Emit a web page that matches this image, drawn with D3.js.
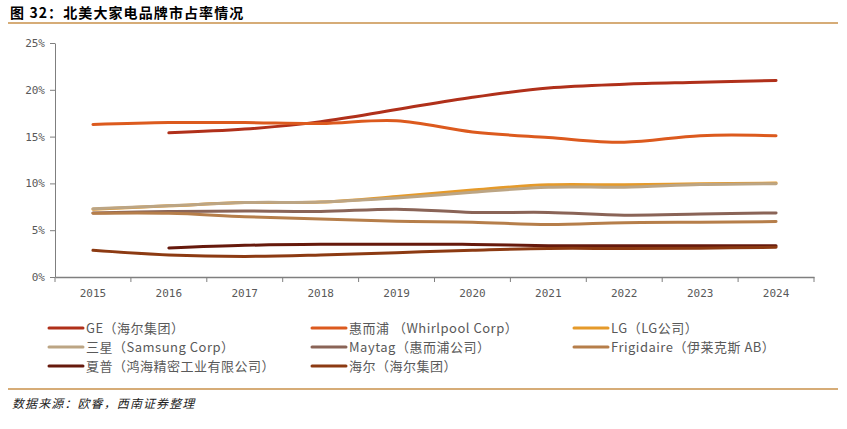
<!DOCTYPE html>
<html><head><meta charset="utf-8">
<script src="https://cdn.jsdelivr.net/npm/d3@7"></script>
<style>body{margin:0;background:#fff}svg{display:block}</style>
</head><body><svg id="c" width="847" height="429"></svg>
<script>
const years = ["2015","2016","2017","2018","2019","2020","2021","2022","2023","2024"];
const yTicks = [0,5,10,15,20,25];
const names = ["GE（海尔集团）","惠而浦 （Whirlpool Corp）","LG（LG公司）","三星（Samsung Corp）","Maytag（惠而浦公司）","Frigidaire（伊莱克斯 AB）","夏普（鸿海精密工业有限公司）","海尔（海尔集团）"];
const colors = ["#B0301A","#DC5A1E","#E59A2A","#BCA584","#8A6457","#B67E4A","#66190C","#8C3A12"];
const geVals = [null,15.4,15.8,16.6,17.9,19.2,20.2,20.6,20.8,21.0];
const whirlpoolVals = [16.3,16.5,16.5,16.4,16.7,15.5,14.9,14.4,15.1,15.1];
const lgVals = [7.25,7.6,7.95,8.0,8.6,9.3,9.85,9.85,9.97,10.03];
const samsungVals = [7.3,7.6,7.95,8.0,8.45,9.05,9.6,9.6,9.87,9.97];
const maytagVals = [6.85,7.0,7.05,7.0,7.25,6.9,6.9,6.6,6.72,6.85];
const frigidaireVals = [6.8,6.8,6.45,6.2,5.95,5.85,5.6,5.8,5.85,5.92];
const sharpVals = [null,3.1,3.38,3.5,3.5,3.48,3.35,3.35,3.33,3.33];
const haierVals = [2.85,2.35,2.2,2.35,2.6,2.85,3.05,3.05,3.08,3.17];
const seriesVals = [geVals,whirlpoolVals,lgVals,samsungVals,maytagVals,frigidaireVals,sharpVals,haierVals];

const svg = d3.select("#c");
const L=55,R=814,T=43,B=277;
const x = d3.scaleBand().domain(years).range([L,R]);
const y = d3.scaleLinear().domain([0,25]).range([B,T]);
const gray="#7f7f7f", txt="#595959";

// title
svg.append("text").attr("x",10).attr("y",18).attr("font-family","'Noto Sans CJK SC'").attr("font-weight","bold").attr("font-size",14).attr("letter-spacing",1.1).attr("fill","#000").text("图 32：北美大家电品牌市占率情况");
svg.append("line").attr("x1",8).attr("x2",838).attr("y1",23).attr("y2",23).attr("stroke","#C8904A").attr("stroke-width",1.5);
svg.append("line").attr("x1",8).attr("x2",838).attr("y1",389).attr("y2",389).attr("stroke","#C8904A").attr("stroke-width",1.5);
svg.append("text").attr("x",12).attr("y",408).attr("font-family","'Noto Sans CJK SC'").attr("font-style","italic").attr("font-size",12).attr("letter-spacing",1.1).attr("fill","#222").text("数据来源：欧睿，西南证券整理");

// y axis
const ya = svg.append("g").attr("transform",`translate(${L},0)`).call(d3.axisLeft(y).tickValues(yTicks).tickFormat(d=>d+"%").tickSize(5).tickSizeOuter(0));
ya.select(".domain").attr("stroke",gray);
ya.selectAll(".tick line").attr("stroke",gray);
ya.selectAll("text").attr("font-family","'DejaVu Sans Mono'").attr("font-size",11).attr("fill",txt).attr("dx",-2);

// x axis
const xa = svg.append("g").attr("transform",`translate(0,${B})`).call(d3.axisBottom(x).tickSize(0).tickSizeOuter(0));
xa.select(".domain").attr("stroke",gray).attr("stroke-width",1.5);
xa.selectAll("text").attr("font-family","'DejaVu Sans Mono'").attr("font-size",11).attr("fill",txt).attr("dy","1.5em");
const edges = years.map(d=>x(d)).concat([R]);
xa.selectAll(".edge").data(edges).enter().append("line").attr("x1",d=>d).attr("x2",d=>d).attr("y1",0).attr("y2",5).attr("stroke",gray);

// lines
const line = d3.line().defined(d=>d.v!=null).x(d=>x(d.k)+x.bandwidth()/2).y(d=>y(d.v)).curve(d3.curveCatmullRom.alpha(0.5));
seriesVals.forEach((vals,i)=>{
  svg.append("path").datum(years.map((k,j)=>({k,v:vals[j]})))
    .attr("d",line).attr("fill","none").attr("stroke",colors[i]).attr("stroke-width",3).attr("stroke-linecap","round");
});

// legend
const colX=[49,312,574], rowY=[328,347,366];
names.forEach((n,i)=>{
  const cx=colX[i%3], cy=rowY[Math.floor(i/3)];
  svg.append("line").attr("x1",cx).attr("x2",cx+34).attr("y1",cy).attr("y2",cy).attr("stroke",colors[i]).attr("stroke-width",3).attr("stroke-linecap","round");
  svg.append("text").attr("x",cx+37).attr("y",cy+4.5).attr("font-family","'Noto Sans CJK SC'").attr("font-size",13).attr("letter-spacing",0.5).attr("fill",txt).text(n);
});
</script></body></html>
